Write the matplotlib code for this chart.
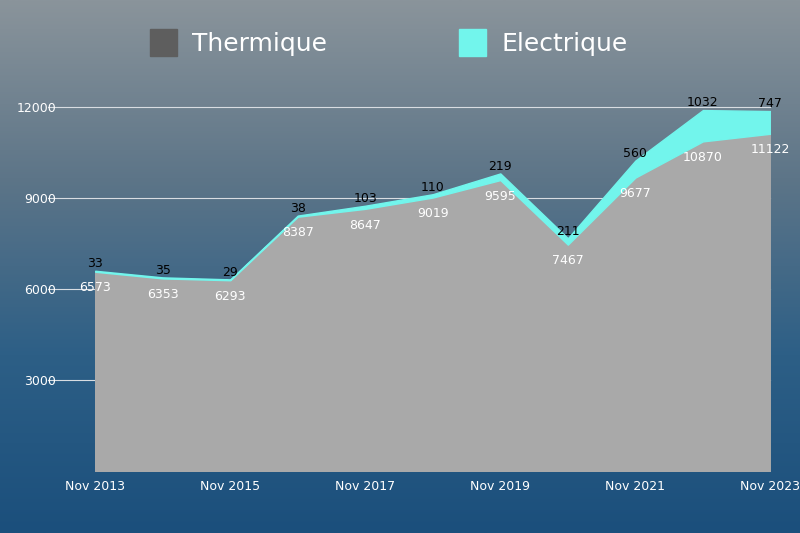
import matplotlib
matplotlib.use("Agg")
import matplotlib.pyplot as plt
import numpy as np
from matplotlib.colors import LinearSegmentedColormap
from matplotlib.patches import Rectangle

years = ["Nov 2013","Nov 2014","Nov 2015","Nov 2016","Nov 2017","Nov 2018","Nov 2019","Nov 2020","Nov 2021","Nov 2022","Nov 2023"]
thermique = [6573, 6353, 6293, 8387, 8647, 9019, 9595, 7467, 9677, 10870, 11122]
electrique = [33, 35, 29, 38, 103, 110, 219, 211, 560, 1032, 747]
yticks = [3000, 6000, 9000, 12000]

fig = plt.figure(figsize=(8, 5.33), dpi=100)
bg = fig.add_axes([0, 0, 1, 1])
grad = np.linspace(0, 1, 256).reshape(-1, 1)
cmap = LinearSegmentedColormap.from_list("bg", ["#8a949b", "#5d7588", "#2d5f86", "#1b4f7c"])
bg.imshow(grad, aspect="auto", cmap=cmap, extent=[0, 1, 0, 1], origin="upper")
bg.axis("off")

ax = fig.add_axes([0.119, 0.116, 0.844, 0.74])
ax.patch.set_alpha(0)
x = np.arange(len(years))
for t in yticks:
    ax.axhline(t, color="#d8dde2", lw=0.8, xmin=-0.07, clip_on=False, zorder=0)
ax.fill_between(x, 0, thermique, color="#a9a9a9", zorder=2)
ax.fill_between(x, thermique, np.array(thermique) + np.array(electrique), color="#72f5ec", zorder=2)
for i in range(len(x)):
    ax.text(x[i], thermique[i] - 650, str(thermique[i]), color="white", ha="center", fontsize=9, zorder=3)
    ax.text(x[i], thermique[i] + electrique[i] + 120, str(electrique[i]), color="black", ha="center", fontsize=9, zorder=4)
ax.set_xlim(0, len(x) - 1)
ax.set_ylim(0, 13000)
ax.set_yticks(yticks)
ax.set_yticklabels([str(t) for t in yticks], color="white", fontsize=9)
ax.tick_params(axis="y", length=0, pad=28)
ax.set_xticks(x[::2])
ax.set_xticklabels(years[::2], color="white", fontsize=9)
ax.tick_params(axis="x", length=0, pad=6)
for s in ax.spines.values():
    s.set_visible(False)

fig.patches.append(Rectangle((0.188, 0.895), 0.033, 0.05, transform=fig.transFigure, color="#5e5e5e"))
fig.text(0.24, 0.918, "Thermique", color="white", fontsize=18, va="center")
fig.patches.append(Rectangle((0.574, 0.895), 0.033, 0.05, transform=fig.transFigure, color="#72f5ec"))
fig.text(0.627, 0.918, "Electrique", color="white", fontsize=18, va="center")
fig.savefig("out.png", dpi=100)
